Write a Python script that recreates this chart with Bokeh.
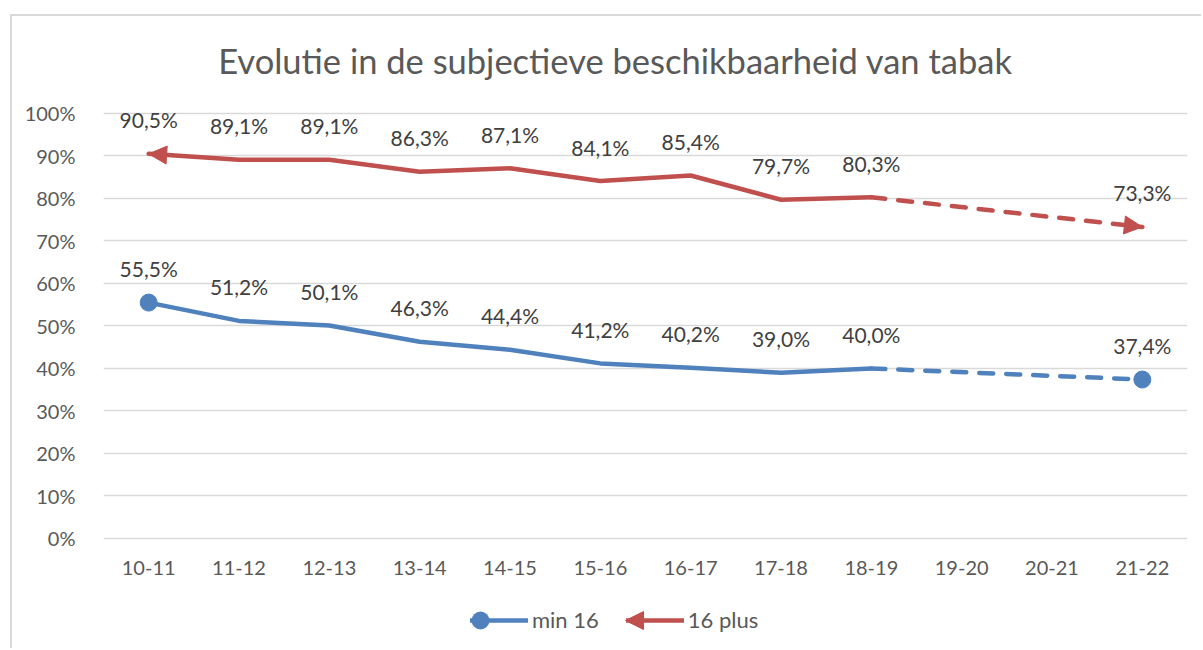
from bokeh.plotting import figure
from bokeh.models import (ColumnDataSource, Range1d, FactorRange, FixedTicker,
                          PrintfTickFormatter, Legend, LegendItem, Arrow, NormalHead,
                          BoxAnnotation, LabelSet, Label)
from bokeh.core.properties import value
from bokeh.embed import file_html
from bokeh.resources import INLINE

# ---------------- data ----------------
categories = ["10-11", "11-12", "12-13", "13-14", "14-15", "15-16",
              "16-17", "17-18", "18-19", "19-20", "20-21", "21-22"]
min16 = [55.5, 51.2, 50.1, 46.3, 44.4, 41.2, 40.2, 39.0, 40.0, None, None, 37.4]
plus16 = [90.5, 89.1, 89.1, 86.3, 87.1, 84.1, 85.4, 79.7, 80.3, None, None, 73.3]
series_names = ["min 16", "16 plus"]
y_ticks = [0, 10, 20, 30, 40, 50, 60, 70, 80, 90, 100]
title_text = "Evolutie in de subjectieve beschikbaarheid van tabak"

BLUE = "#4F81BD"
RED = "#C0504D"
FONT = "Lato"
LABEL_COLOR = "#404040"
AXIS_COLOR = "#595959"
GRID_COLOR = "#D9D9D9"
Y_START = -24.24   # room below 0% for the category labels and the legend
Y_END = 122.82     # room above 100% for the title and the top data labels


def split(vals):
    known = [(c, v) for c, v in zip(categories, vals) if v is not None]
    solid = []
    for c, v in zip(categories, vals):
        if v is None:
            break
        solid.append((c, v))
    dashed = [solid[-1]] + known[len(solid):]
    return solid, dashed, known


def fmt(v):
    return ("%.1f%%" % v).replace(".", ",")


def pos(c):
    # synthetic coordinate of a factor on the FactorRange
    return categories.index(c) + 0.5


p = figure(x_range=FactorRange(*categories), y_range=Range1d(Y_START, Y_END),
           width=1191, height=634, output_backend="svg", toolbar_location=None,
           min_border_left=91, min_border_right=16, min_border_top=0,
           min_border_bottom=9)

p.styles = {"margin-left": "10px", "margin-top": "14px",
            "border-left": "2px solid #D9D9D9", "border-top": "2px solid #D9D9D9"}

p.outline_line_color = None
p.background_fill_color = "white"
p.border_fill_color = "white"

for ax in (p.xaxis[0], p.yaxis[0]):
    ax.axis_line_color = None
    ax.major_tick_line_color = None
    ax.minor_tick_line_color = None
    ax.major_label_text_font = FONT
    ax.major_label_text_font_size = "20px"
    ax.major_label_text_color = AXIS_COLOR
p.xaxis.fixed_location = 0
p.xaxis.major_label_standoff = 17
p.yaxis.major_label_standoff = 22
p.yaxis.ticker = FixedTicker(ticks=y_ticks)
p.yaxis.formatter = PrintfTickFormatter(format="%d%%")

p.xgrid.grid_line_color = None
p.ygrid.ticker = FixedTicker(ticks=y_ticks)
p.ygrid.grid_line_color = GRID_COLOR
p.ygrid.grid_line_width = 1.5

# title (screen units, frame-relative)
p.add_layout(Label(x=512, y=581, x_units="screen", y_units="screen", text=title_text,
                   text_align="center", text_baseline="middle", text_font=FONT,
                   text_font_size="34.5px", text_color=AXIS_COLOR))

legend_items = []
for name, vals, color in ((series_names[0], min16, BLUE), (series_names[1], plus16, RED)):
    solid, dashed, known = split(vals)
    r_solid = p.line(x=[c for c, _ in solid], y=[v for _, v in solid],
                     line_color=color, line_width=4.5, line_join="round", line_cap="round")
    p.line(x=[c for c, _ in dashed], y=[v for _, v in dashed],
           line_color=color, line_width=4.5, line_dash="14 13", line_join="round",
           line_cap="round")
    ends_x = [known[0][0], known[-1][0]]
    ends_y = [known[0][1], known[-1][1]]
    if color == BLUE:
        p.scatter(x=ends_x, y=ends_y, size=17, marker="circle",
                  fill_color=BLUE, line_color=BLUE)
    else:
        src = ColumnDataSource(dict(
            x0=[pos(known[1][0]), pos(known[-2][0])], y0=[known[1][1], known[-2][1]],
            x1=[pos(known[0][0]), pos(known[-1][0])], y1=[known[0][1], known[-1][1]]))
        p.add_layout(Arrow(source=src, x_start="x0", y_start="y0", x_end="x1", y_end="y1",
                           line_alpha=0,
                           end=NormalHead(size=18, fill_color=RED, line_color=RED,
                                          line_width=1)))
    legend_items.append(LegendItem(label=name, renderers=[r_solid]))

    lbl_src = ColumnDataSource(dict(x=[pos(c) for c, _ in known], y=[v for _, v in known],
                                    t=[fmt(v) for _, v in known]))
    p.add_layout(LabelSet(source=lbl_src, x="x", y="y", text="t",
                          text_align="center", text_baseline="middle", y_offset=34,
                          text_font=value(FONT), text_font_size="21px",
                          text_color=LABEL_COLOR))

legend = Legend(items=legend_items, orientation="horizontal", location=(367, 8),
                glyph_width=58, glyph_height=20, label_text_font=FONT,
                label_text_font_size="22px", label_text_color=AXIS_COLOR,
                border_line_color=None, background_fill_alpha=0, spacing=27,
                label_standoff=4, padding=0, margin=0)
p.add_layout(legend)

# legend key ends (screen units, frame-relative): circle for "min 16", arrow head for "16 plus"
p.add_layout(BoxAnnotation(left=368, right=386, bottom=12, top=30,
                           left_units="screen", right_units="screen",
                           bottom_units="screen", top_units="screen",
                           border_radius=9, fill_color=BLUE, fill_alpha=1,
                           line_color=None))
p.add_layout(Arrow(x_start=560, y_start=21, x_end=522, y_end=21,
                   start_units="screen", end_units="screen", line_alpha=0,
                   end=NormalHead(size=18, fill_color=RED, line_color=RED, line_width=1)))

open("out.html", "w").write(file_html(p, INLINE))
